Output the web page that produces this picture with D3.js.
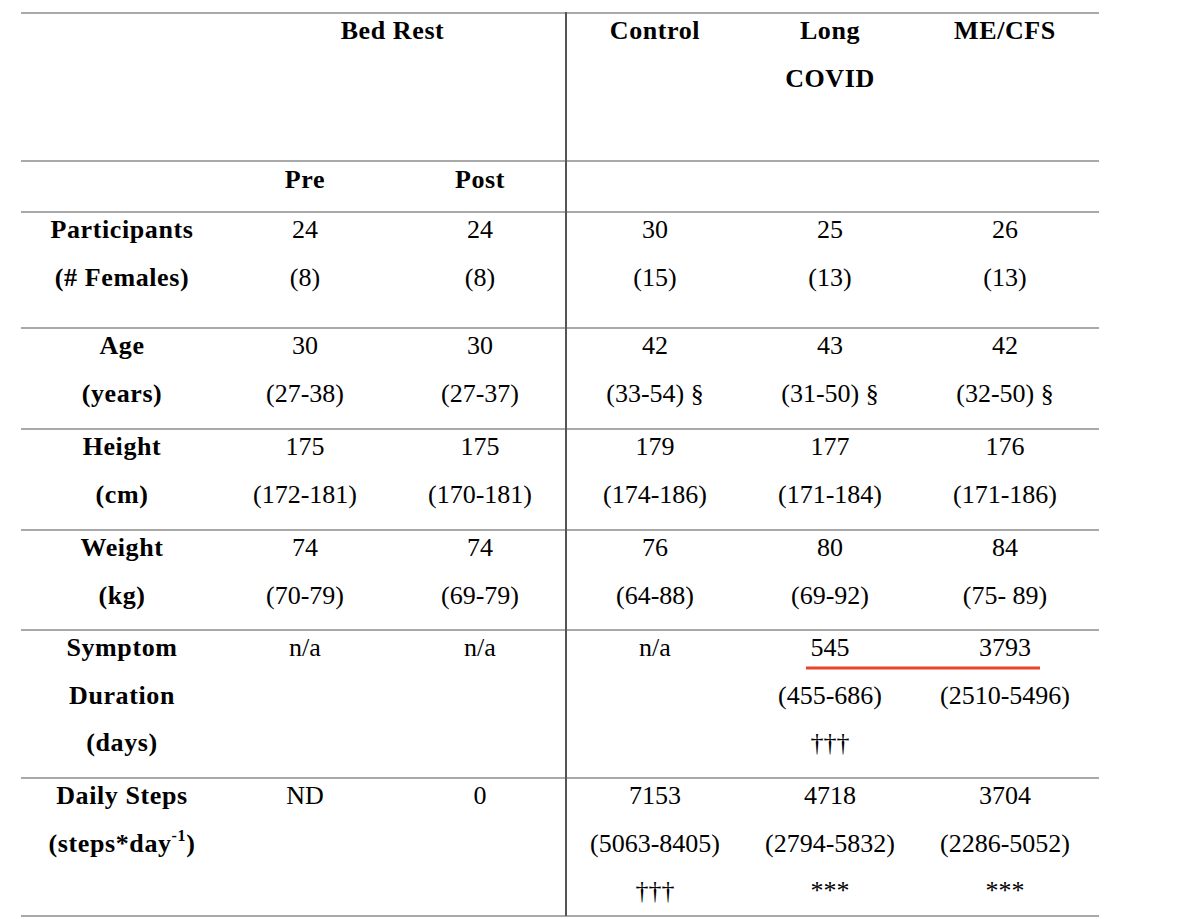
<!DOCTYPE html>
<html>
<head>
<meta charset="utf-8">
<script src="https://cdn.jsdelivr.net/npm/d3@7"></script>
<style>
  body { margin: 0; background: #fff; }
  text { font-family: "Liberation Serif", "Times New Roman", serif; fill: #000; }
  .bold { font-weight: bold; letter-spacing: 0.6px; }
</style>
</head>
<body>
<svg id="chart"></svg>
<script>
// table content
var columns = ["Pre", "Post", "Control", "Long COVID", "ME/CFS"];
var groupHeaders = [
  {name: ["Bed Rest"], cols: ["Pre", "Post"]},
  {name: ["Control"], cols: ["Control"]},
  {name: ["Long", "COVID"], cols: ["Long COVID"]},
  {name: ["ME/CFS"], cols: ["ME/CFS"]}
];
var subHeaders = ["Pre", "Post"];

var rowLabels = [
  ["Participants", "(# Females)"],
  ["Age", "(years)"],
  ["Height", "(cm)"],
  ["Weight", "(kg)"],
  ["Symptom", "Duration", "(days)"],
  ["Daily Steps", "(steps*day^-1)"]
];

var participants = [["24", "(8)"], ["24", "(8)"], ["30", "(15)"], ["25", "(13)"], ["26", "(13)"]];
var age = [["30", "(27-38)"], ["30", "(27-37)"], ["42", "(33-54) §"], ["43", "(31-50) §"], ["42", "(32-50) §"]];
var heightCm = [["175", "(172-181)"], ["175", "(170-181)"], ["179", "(174-186)"], ["177", "(171-184)"], ["176", "(171-186)"]];
var weightKg = [["74", "(70-79)"], ["74", "(69-79)"], ["76", "(64-88)"], ["80", "(69-92)"], ["84", "(75- 89)"]];
var symptomDays = [["n/a"], ["n/a"], ["n/a"], ["545", "(455-686)", "†††"], ["3793", "(2510-5496)"]];
var dailySteps = [["ND"], ["0"], ["7153", "(5063-8405)", "†††"], ["4718", "(2794-5832)", "***"], ["3704", "(2286-5052)", "***"]];

var rows = [participants, age, heightCm, weightKg, symptomDays, dailySteps];
// red underline spans the first value of these columns in the symptom row
var highlighted = ["Long COVID", "ME/CFS"];

// layout
var W = 1200, H = 919;
var leftX = 21, rightX = 1099, topY = 13;
var headerH = 148, subH = 51;
var rowHeights = [116, 101, 101, 100, 148, 138];
var lineGap = 47.5, firstBase = 26;
var fontSize = 26;

var svg = d3.select("#chart")
    .attr("width", W)
    .attr("height", H);

var x = d3.scalePoint()
  .domain(columns)
  .range([305, 1005]);
var labelX = 122;
var dividerX = (x("Post") + x("Control")) / 2 - 1.5;

// row tops
var tops = [topY, topY + headerH];
var y0 = topY + headerH + subH;
rowHeights.forEach(function(h) { tops.push(y0); y0 += h; });
var bottomY = y0;

// horizontal rules
var ruleYs = tops.concat([bottomY]);
svg.append("g")
  .selectAll("line")
  .data(ruleYs)
  .enter().append("line")
    .attr("x1", leftX)
    .attr("x2", rightX)
    .attr("y1", function(d) { return d; })
    .attr("y2", function(d) { return d; })
    .attr("stroke", "#8c8c8c")
    .attr("stroke-width", 1.6);

// vertical divider
svg.append("line")
  .attr("x1", dividerX).attr("x2", dividerX)
  .attr("y1", topY - 1).attr("y2", bottomY)
  .attr("stroke", "#555")
  .attr("stroke-width", 2);

function addLines(g, lines, cx, y, bold) {
  lines.forEach(function(t, i) {
    var txt = g.append("text")
      .attr("x", cx)
      .attr("y", y + firstBase + i * lineGap)
      .attr("text-anchor", "middle")
      .attr("font-size", fontSize)
      .attr("class", bold ? "bold" : null);
    var parts = t.split("^");
    if (parts.length > 1) {
      var sup = parts[1].match(/^(-?\d+)(.*)$/);
      txt.append("tspan").text(parts[0]);
      txt.append("tspan")
        .attr("font-size", 16)
        .attr("dy", -11)
        .text(sup[1]);
      txt.append("tspan")
        .attr("dy", 11)
        .text(")");
    } else {
      txt.text(t);
    }
  });
}

// group headers
var head = svg.append("g");
groupHeaders.forEach(function(g) {
  var cx = d3.mean(g.cols, function(c) { return x(c); });
  addLines(head, g.name, cx, tops[0], true);
});
subHeaders.forEach(function(s) {
  addLines(head, [s], x(s), tops[1] + 1, true);
});

// body rows
var body = svg.append("g");
rows.forEach(function(row, r) {
  var yTop = tops[r + 2];
  addLines(body, rowLabels[r], labelX, yTop, true);
  row.forEach(function(cell, c) {
    addLines(body, cell, x(columns[c]), yTop, false);
  });
});

// red underline in symptom duration row
var symRow = tops[2 + rows.indexOf(symptomDays)];
svg.append("line")
  .attr("x1", x(highlighted[0]) - 24)
  .attr("x2", x(highlighted[1]) + 35)
  .attr("y1", symRow + firstBase + 12)
  .attr("y2", symRow + firstBase + 12)
  .attr("stroke", "#e8432c")
  .attr("stroke-width", 3);
</script>
</body>
</html>
